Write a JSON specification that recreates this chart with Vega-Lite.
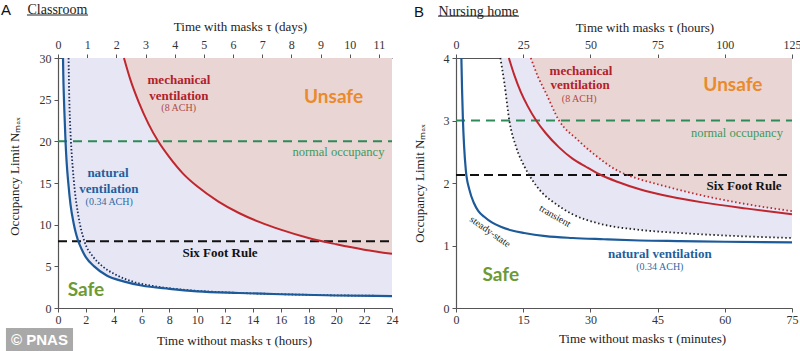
{
  "$schema": "https://vega.github.io/schema/vega-lite/v6.json",
  "padding": {"left": 0, "top": 3, "right": 0, "bottom": 0},
  "background": "white",
  "config": {
    "view": {"stroke": null},
    "axis": {"grid": false, "labelFlush": false, "labelOverlap": false, "domainColor": "#555", "domainWidth": 1.2, "tickColor": "#555", "tickSize": 4, "labelFont": "Liberation Serif", "labelFontSize": 12, "labelColor": "#333", "titleFont": "Liberation Serif", "titleFontSize": 13, "titleFontWeight": "normal", "titleColor": "#222"},
    "text": {"align": "center", "baseline": "middle"}
  },
  "datasets": {
    "natA": [{"t":0.36,"n":30},{"t":0.38,"n":28},{"t":0.42,"n":25.5},{"t":0.46,"n":23.5},{"t":0.54,"n":20},{"t":0.62,"n":17.5},{"t":0.74,"n":15},{"t":0.9,"n":12.4},{"t":1.12,"n":10.2},{"t":1.25,"n":9.2},{"t":1.44,"n":8.1},{"t":1.7,"n":7.05},{"t":2,"n":6.1},{"t":2.6,"n":5},{"t":3.5,"n":3.9},{"t":4.7,"n":3.2},{"t":6,"n":2.7},{"t":8,"n":2.3},{"t":10,"n":2.0},{"t":13,"n":1.8},{"t":16,"n":1.65},{"t":20,"n":1.5},{"t":24,"n":1.43}],
    "natTA": [{"t":0.76,"n":30},{"t":0.8,"n":26},{"t":0.86,"n":22.5},{"t":0.93,"n":20},{"t":1.05,"n":17},{"t":1.2,"n":14.2},{"t":1.45,"n":11.2},{"t":1.9,"n":8},{"t":2.5,"n":6.2},{"t":3.2,"n":5},{"t":4.2,"n":3.95},{"t":5.5,"n":3.1},{"t":7,"n":2.6},{"t":9,"n":2.2},{"t":12,"n":1.88},{"t":16,"n":1.66},{"t":20,"n":1.52},{"t":24,"n":1.45}],
    "mechA": [{"t":4.74,"n":30},{"t":5.2,"n":27.4},{"t":5.8,"n":24.7},{"t":6.5,"n":22.1},{"t":7.2,"n":20},{"t":8,"n":18.1},{"t":9,"n":16.1},{"t":10,"n":14.6},{"t":11.5,"n":12.8},{"t":13,"n":11.4},{"t":14.5,"n":10.3},{"t":16,"n":9.4},{"t":18,"n":8.4},{"t":20,"n":7.65},{"t":22,"n":7.0},{"t":24,"n":6.5}],
    "natB": [{"t":1.2,"n":4},{"t":1.35,"n":3.5},{"t":1.55,"n":3},{"t":1.8,"n":2.6},{"t":2.2,"n":2.2},{"t":3,"n":1.89},{"t":4,"n":1.68},{"t":5,"n":1.55},{"t":6.3,"n":1.46},{"t":8,"n":1.37},{"t":10,"n":1.3},{"t":12.5,"n":1.24},{"t":15.2,"n":1.2},{"t":20,"n":1.15},{"t":26,"n":1.12},{"t":33,"n":1.1},{"t":41,"n":1.08},{"t":50,"n":1.07},{"t":60,"n":1.06},{"t":75,"n":1.05}],
    "transB": [{"t":9.9,"n":4},{"t":10.8,"n":3.6},{"t":11.9,"n":3.0},{"t":13.4,"n":2.58},{"t":15.3,"n":2.26},{"t":17,"n":2.05},{"t":19,"n":1.86},{"t":22,"n":1.68},{"t":26,"n":1.5},{"t":32,"n":1.35},{"t":41,"n":1.25},{"t":50,"n":1.2},{"t":60,"n":1.16},{"t":75,"n":1.12}],
    "mechB": [{"t":11.8,"n":4},{"t":13,"n":3.73},{"t":14.5,"n":3.45},{"t":16,"n":3.23},{"t":17.9,"n":3},{"t":20,"n":2.8},{"t":23,"n":2.57},{"t":26,"n":2.39},{"t":29,"n":2.26},{"t":32,"n":2.14},{"t":36,"n":2.02},{"t":41,"n":1.9},{"t":48,"n":1.78},{"t":55,"n":1.69},{"t":65,"n":1.59},{"t":75,"n":1.5}],
    "mechTB": [{"t":16.7,"n":4},{"t":18.3,"n":3.7},{"t":20,"n":3.45},{"t":23,"n":3.0},{"t":27,"n":2.7},{"t":31,"n":2.45},{"t":36,"n":2.2},{"t":41,"n":2.06},{"t":45,"n":1.98},{"t":55,"n":1.8},{"t":65,"n":1.66},{"t":75,"n":1.55}]
  },
  "spacing": 64,
  "bounds": "flush",
  "hconcat": [
    {
      "width": 334,
      "height": 250,
      "layer": [
        {
          "encoding": {
            "x": {"field": "t", "type": "quantitative", "scale": {"domain": [0, 24], "nice": false, "zero": false},
                  "axis": {"values": [0,2,4,6,8,10,12,14,16,18,20,22,24], "title": "Time without masks  τ  (hours)", "titleX": 176, "titleY": 32, "titleBaseline": "middle", "titleAlign": "center", "labelPadding": 2}},
            "y": {"field": "n", "type": "quantitative", "scale": {"domain": [0, 30], "nice": false},
                  "axis": {"values": [0,5,10,15,20,25,30], "format": "d", "title": "Occupancy Limit  Nₘₐₓ", "titleX": -44, "titleY": 118, "titleAngle": -90, "titleAlign": "center", "titleBaseline": "middle", "labelPadding": 3}}
          },
          "layer": [
            {"data": {"name": "natA"}, "mark": {"type": "area", "color": "#e6e6f4", "interpolate": "monotone"}, "encoding": {"y2": {"datum": 30}}},
            {"data": {"name": "mechA"}, "mark": {"type": "area", "color": "#e9d5d3", "interpolate": "monotone"}, "encoding": {"y2": {"datum": 30}}},
            {"data": {"values": [{"t": 0, "t2": 24, "n": 20}]}, "mark": {"type": "rule", "color": "#2e8b57", "strokeWidth": 2, "strokeDash": [9, 6]}, "encoding": {"x2": {"field": "t2"}}},
            {"data": {"values": [{"t": 0, "t2": 24, "n": 8}]}, "mark": {"type": "rule", "color": "#111", "strokeWidth": 2, "strokeDash": [9, 5]}, "encoding": {"x2": {"field": "t2"}}},
            {"data": {"name": "natTA"}, "mark": {"type": "line", "color": "#1b2f5e", "strokeWidth": 1.8, "strokeDash": [1.5, 2], "interpolate": "monotone"}},
            {"data": {"name": "natA"}, "mark": {"type": "line", "color": "#1d5a9a", "strokeWidth": 2.2, "interpolate": "monotone"}},
            {"data": {"name": "mechA"}, "mark": {"type": "line", "color": "#c0262d", "strokeWidth": 2, "interpolate": "monotone"}},
            {"data": {"values": [{"t": 8.69, "n": 27.36, "label": "mechanical"}, {"t": 8.69, "n": 25.5, "label": "ventilation"}]}, "mark": {"type": "text", "font": "Liberation Serif", "fontWeight": "bold", "fontSize": 13, "color": "#b3202a"}, "encoding": {"text": {"field": "label"}}},
            {"data": {"values": [{"t": 8.67, "n": 23.96, "label": "(8 ACH)"}]}, "mark": {"type": "text", "font": "Liberation Serif", "fontSize": 10, "color": "#b04a4a"}, "encoding": {"text": {"field": "label"}}},
            {"data": {"values": [{"t": 19.8, "n": 25.28, "label": "Unsafe"}]}, "mark": {"type": "text", "font": "Lato", "fontWeight": "bold", "fontSize": 19, "color": "#ea8a2b"}, "encoding": {"text": {"field": "label"}}},
            {"data": {"values": [{"t": 20.15, "n": 18.68, "label": "normal occupancy"}]}, "mark": {"type": "text", "font": "Liberation Serif", "fontSize": 12.5, "color": "#3c9a5c"}, "encoding": {"text": {"field": "label"}}},
            {"data": {"values": [{"t": 3.59, "n": 16.16, "label": "natural"}, {"t": 3.66, "n": 14.24, "label": "ventilation"}]}, "mark": {"type": "text", "font": "Liberation Serif", "fontWeight": "bold", "fontSize": 13, "color": "#1f5f9e"}, "encoding": {"text": {"field": "label"}}},
            {"data": {"values": [{"t": 3.68, "n": 12.76, "label": "(0.34 ACH)"}]}, "mark": {"type": "text", "font": "Liberation Serif", "fontSize": 10, "color": "#2f6aa3"}, "encoding": {"text": {"field": "label"}}},
            {"data": {"values": [{"t": 11.64, "n": 6.64, "label": "Six Foot Rule"}]}, "mark": {"type": "text", "font": "Liberation Serif", "fontWeight": "bold", "fontSize": 13, "color": "#111"}, "encoding": {"text": {"field": "label"}}},
            {"data": {"values": [{"t": 2.01, "n": 2.16, "label": "Safe"}]}, "mark": {"type": "text", "font": "Lato", "fontWeight": "bold", "fontSize": 19, "color": "#6c9a35"}, "encoding": {"text": {"field": "label"}}},
            {"data": {"values": [{"t": -3.74, "n": 35.76, "label": "A"}]}, "mark": {"type": "text", "font": "Liberation Sans", "fontSize": 15, "color": "#111"}, "encoding": {"text": {"field": "label"}}},
            {"data": {"values": [{"t": -0.04, "n": 35.76, "label": "Classroom"}]}, "mark": {"type": "text", "font": "Liberation Serif", "fontSize": 14, "color": "#222"}, "encoding": {"text": {"field": "label"}}},
            {"data": {"values": [{"t": -2.23, "t2": 2.16, "n": 35.16}]}, "mark": {"type": "rule", "color": "#222", "strokeWidth": 1}, "encoding": {"x2": {"field": "t2"}}},
            {"data": {"values": [{"t": -3.74, "t2": 1.08, "n": -2.4, "n2": -5.2}]}, "mark": {"type": "rect", "color": "#a9a9a9"}, "encoding": {"x2": {"field": "t2"}, "y2": {"field": "n2"}}},
            {"data": {"values": [{"t": -1.33, "n": -3.8, "label": "© PNAS"}]}, "mark": {"type": "text", "font": "Liberation Sans", "fontWeight": "bold", "fontSize": 15, "color": "white"}, "encoding": {"text": {"field": "label"}}}
          ]
        },
        {
          "data": {"values": [{"d": 0, "n": 0}]},
          "mark": {"type": "point", "opacity": 0},
          "encoding": {
            "x": {"field": "d", "type": "quantitative", "scale": {"domain": [0, 11.45], "nice": false, "zero": false},
                  "axis": {"orient": "top", "values": [0,1,2,3,4,5,6,7,8,9,10,11], "title": "Time with masks  τ  (days)", "titleX": 182, "titleY": -32, "titleBaseline": "middle", "titleAlign": "center", "labelPadding": 3}},
            "y": {"field": "n", "type": "quantitative"}
          }
        }
      ],
      "resolve": {"scale": {"x": "independent"}}
    },
    {
      "width": 336,
      "height": 250,
      "layer": [
        {
          "encoding": {
            "x": {"field": "t", "type": "quantitative", "scale": {"domain": [0, 75], "nice": false, "zero": false},
                  "axis": {"values": [0,15,30,45,60,75], "title": "Time without masks  τ  (minutes)", "titleX": 186, "titleY": 30, "titleBaseline": "middle", "titleAlign": "center", "labelPadding": 2}},
            "y": {"field": "n", "type": "quantitative", "scale": {"domain": [0, 4], "nice": false},
                  "axis": {"values": [0,1,2,3,4], "format": "d", "title": "Occupancy Limit  Nₘₐₓ", "titleX": -37, "titleY": 125, "titleAngle": -90, "titleAlign": "center", "titleBaseline": "middle", "labelPadding": 3}}
          },
          "layer": [
            {"data": {"name": "transB"}, "mark": {"type": "area", "color": "#e6e6f4", "interpolate": "monotone"}, "encoding": {"y2": {"datum": 4}}},
            {"data": {"name": "mechTB"}, "mark": {"type": "area", "color": "#e9d5d3", "interpolate": "monotone"}, "encoding": {"y2": {"datum": 4}}},
            {"data": {"values": [{"t": 0, "t2": 75, "n": 3}]}, "mark": {"type": "rule", "color": "#2e8b57", "strokeWidth": 2, "strokeDash": [9, 6]}, "encoding": {"x2": {"field": "t2"}}},
            {"data": {"values": [{"t": 0, "t2": 75, "n": 2.13}]}, "mark": {"type": "rule", "color": "#111", "strokeWidth": 2, "strokeDash": [9, 5]}, "encoding": {"x2": {"field": "t2"}}},
            {"data": {"name": "transB"}, "mark": {"type": "line", "color": "#222", "strokeWidth": 1.8, "strokeDash": [1.5, 2.5], "interpolate": "monotone"}},
            {"data": {"name": "natB"}, "mark": {"type": "line", "color": "#1d5a9a", "strokeWidth": 2.2, "interpolate": "monotone"}},
            {"data": {"name": "mechTB"}, "mark": {"type": "line", "color": "#c0262d", "strokeWidth": 1.8, "strokeDash": [1.5, 2.5], "interpolate": "monotone"}},
            {"data": {"name": "mechB"}, "mark": {"type": "line", "color": "#c0262d", "strokeWidth": 2, "interpolate": "monotone"}},
            {"data": {"values": [{"t": 27.9, "n": 3.79, "label": "mechanical"}, {"t": 27.7, "n": 3.57, "label": "ventilation"}]}, "mark": {"type": "text", "font": "Liberation Serif", "fontWeight": "bold", "fontSize": 13, "color": "#b3202a"}, "encoding": {"text": {"field": "label"}}},
            {"data": {"values": [{"t": 27.5, "n": 3.34, "label": "(8 ACH)"}]}, "mark": {"type": "text", "font": "Liberation Serif", "fontSize": 10, "color": "#b04a4a"}, "encoding": {"text": {"field": "label"}}},
            {"data": {"values": [{"t": 61.8, "n": 3.57, "label": "Unsafe"}]}, "mark": {"type": "text", "font": "Lato", "fontWeight": "bold", "fontSize": 19, "color": "#ea8a2b"}, "encoding": {"text": {"field": "label"}}},
            {"data": {"values": [{"t": 62.7, "n": 2.795, "label": "normal occupancy"}]}, "mark": {"type": "text", "font": "Liberation Serif", "fontSize": 12.5, "color": "#3c9a5c"}, "encoding": {"text": {"field": "label"}}},
            {"data": {"values": [{"t": 64.3, "n": 1.957, "label": "Six Foot Rule"}]}, "mark": {"type": "text", "font": "Liberation Serif", "fontWeight": "bold", "fontSize": 13, "color": "#111"}, "encoding": {"text": {"field": "label"}}},
            {"data": {"values": [{"t": 22.1, "n": 1.47, "label": "transient"}]}, "mark": {"type": "text", "font": "Liberation Serif", "fontSize": 10, "color": "#222", "angle": 30}, "encoding": {"text": {"field": "label"}}},
            {"data": {"values": [{"t": 7.6, "n": 1.22, "label": "steady-state"}]}, "mark": {"type": "text", "font": "Liberation Serif", "fontSize": 10, "color": "#222", "angle": 35}, "encoding": {"text": {"field": "label"}}},
            {"data": {"values": [{"t": 45.5, "n": 0.86, "label": "natural ventilation"}]}, "mark": {"type": "text", "font": "Liberation Serif", "fontWeight": "bold", "fontSize": 13, "color": "#1f5f9e"}, "encoding": {"text": {"field": "label"}}},
            {"data": {"values": [{"t": 45.5, "n": 0.65, "label": "(0.34 ACH)"}]}, "mark": {"type": "text", "font": "Liberation Serif", "fontSize": 10, "color": "#2f6aa3"}, "encoding": {"text": {"field": "label"}}},
            {"data": {"values": [{"t": 10.0, "n": 0.53, "label": "Safe"}]}, "mark": {"type": "text", "font": "Lato", "fontWeight": "bold", "fontSize": 19, "color": "#6c9a35"}, "encoding": {"text": {"field": "label"}}},
            {"data": {"values": [{"t": -8.26, "n": 4.74, "label": "B"}]}, "mark": {"type": "text", "font": "Liberation Sans", "fontSize": 15, "color": "#111"}, "encoding": {"text": {"field": "label"}}},
            {"data": {"values": [{"t": 5.0, "n": 4.74, "label": "Nursing home"}]}, "mark": {"type": "text", "font": "Liberation Serif", "fontSize": 14, "color": "#222"}, "encoding": {"text": {"field": "label"}}},
            {"data": {"values": [{"t": -4.02, "t2": 14.06, "n": 4.67}]}, "mark": {"type": "rule", "color": "#222", "strokeWidth": 1}, "encoding": {"x2": {"field": "t2"}}}
          ]
        },
        {
          "data": {"values": [{"d": 0, "n": 0}]},
          "mark": {"type": "point", "opacity": 0},
          "encoding": {
            "x": {"field": "d", "type": "quantitative", "scale": {"domain": [0, 125], "nice": false, "zero": false},
                  "axis": {"orient": "top", "values": [0,25,50,75,100,125], "title": "Time with masks  τ  (hours)", "titleX": 188.5, "titleY": -31, "titleBaseline": "middle", "titleAlign": "center", "labelPadding": 3}},
            "y": {"field": "n", "type": "quantitative"}
          }
        }
      ],
      "resolve": {"scale": {"x": "independent"}}
    }
  ]
}
